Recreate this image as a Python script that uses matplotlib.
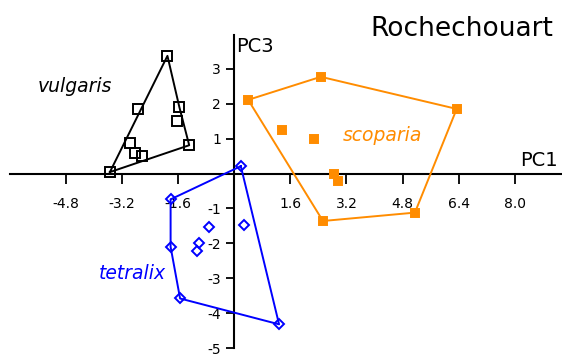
import numpy as np
import matplotlib
matplotlib.use('Agg')
import matplotlib.pyplot as plt

# PCA scores (PC1, PC3) per species
vulgaris_pc1 = [-3.54, -2.75, -1.90, -1.56, -1.64, -2.97, -2.81, -2.63, -1.28]
vulgaris_pc3 = [0.04, 1.84, 3.37, 1.90, 1.51, 0.88, 0.58, 0.50, 0.81]
vulgaris_hull = [0, 2, 3, 8, 0]

tetralix_pc1 = [0.19, -1.81, -1.81, -1.54, 1.28, -0.71, -0.99, -1.07, 0.28]
tetralix_pc3 = [0.21, -0.74, -2.10, -3.58, -4.32, -1.54, -2.00, -2.22, -1.47]
tetralix_hull = [0, 1, 2, 3, 4, 0]

scoparia_pc1 = [0.40, 2.47, 6.34, 5.15, 2.53, 1.37, 2.28, 2.84, 2.97]
scoparia_pc3 = [2.11, 2.77, 1.85, -1.12, -1.36, 1.25, 0.99, -0.01, -0.22]
scoparia_hull = [0, 1, 2, 3, 4, 0]

xticks = [-4.8, -3.2, -1.6, 1.6, 3.2, 4.8, 6.4, 8.0]
yticks = [-5, -4, -3, -2, -1, 1, 2, 3]

black = '#000000'
blue = '#0000ff'
orange = '#ff8c00'

fig = plt.figure(figsize=(5.62, 3.54), dpi=100)
ax = fig.add_axes([0, 0, 1, 1])
ax.set_xlim(-6.67, 9.34)
ax.set_ylim(-5.17, 4.97)

groups = [
    (vulgaris_pc1, vulgaris_pc3, vulgaris_hull, black, 's', 'none', 7.5),
    (tetralix_pc1, tetralix_pc3, tetralix_hull, blue, 'D', 'none', 5.5),
    (scoparia_pc1, scoparia_pc3, scoparia_hull, orange, 's', orange, 6),
]
for xs, ys, hull, col, mk, fc, ms in groups:
    xs = np.array(xs)
    ys = np.array(ys)
    ax.plot(xs[hull], ys[hull], color=col, lw=1.4, zorder=2)
    ax.plot(xs, ys, ls='none', marker=mk, ms=ms, mfc=fc, mec=col, mew=1.4, zorder=3)

# axes crossing at the origin
for side in ['top', 'right']:
    ax.spines[side].set_visible(False)
ax.spines['left'].set_position(('data', 0))
ax.spines['bottom'].set_position(('data', 0))
ax.spines['left'].set_bounds(-5, 3.97)
ax.spines['bottom'].set_bounds(-6.38, 9.3)
for side in ['left', 'bottom']:
    ax.spines[side].set_linewidth(1.5)
    ax.spines[side].set_zorder(1)

ax.set_xticks(xticks)
ax.set_xticklabels([f'{v:.1f}' for v in xticks])
ax.set_yticks(yticks)
ax.set_yticklabels([str(v) for v in yticks])
ax.tick_params(axis='x', direction='out', length=7, width=1.3, pad=10, labelsize=10)
ax.tick_params(axis='y', direction='out', length=6, width=1.3, pad=3.5, labelsize=10)

ax.text(0.05, 3.49, 'PC3', fontsize=14, ha='left', va='baseline')
ax.text(9.23, 0.1, 'PC1', fontsize=14, ha='right', va='bottom')

ax.text(-4.53, 2.48, 'vulgaris', fontsize=13.5, style='italic', color=black,
        ha='center', va='center')
ax.text(-2.89, -2.85, 'tetralix', fontsize=13.5, style='italic', color=blue,
        ha='center', va='center')
ax.text(4.23, 1.10, 'scoparia', fontsize=13.5, style='italic', color=orange,
        ha='center', va='center')

fig.text(553 / 562, 1 - 36 / 354, 'Rochechouart', fontsize=19, ha='right', va='baseline')

fig.savefig('out.png', dpi=100)
